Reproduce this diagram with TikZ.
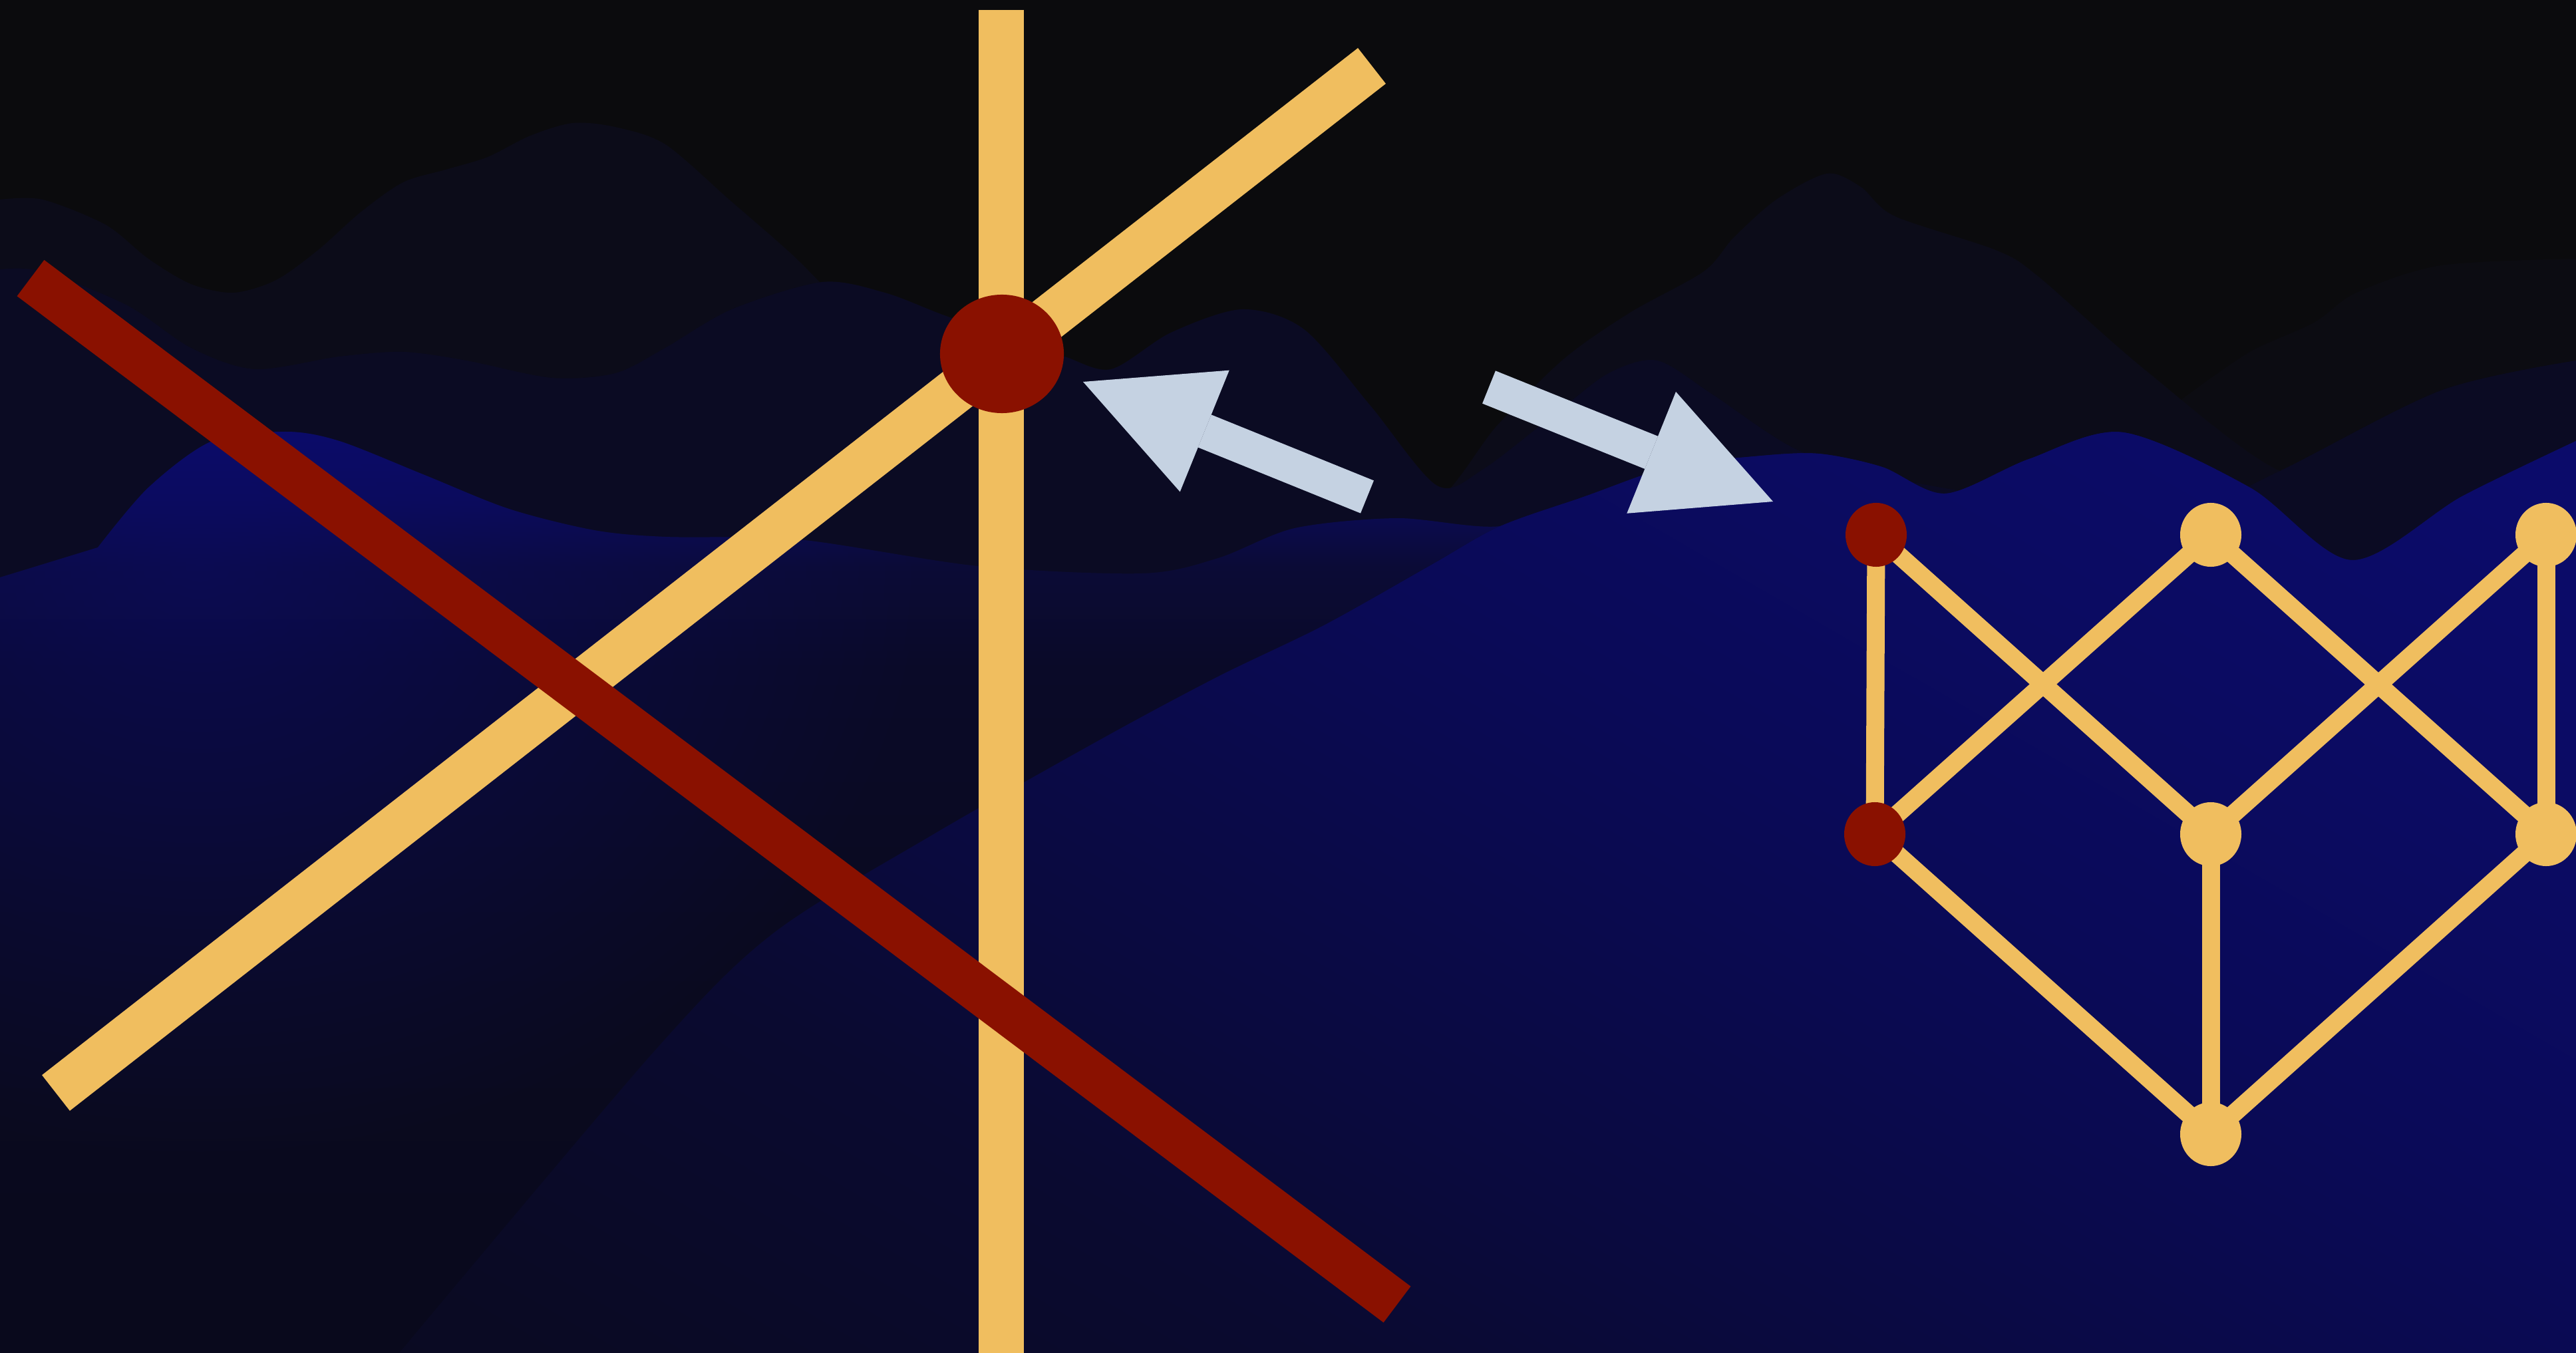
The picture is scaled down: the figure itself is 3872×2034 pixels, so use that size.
\documentclass[tikz,border=0pt]{standalone}
\usetikzlibrary{arrows.meta,shapes.geometric,fadings}

\definecolor{skyc}{RGB}{11,11,13}
\definecolor{farc}{RGB}{12,12,18}
\definecolor{ridgec}{RGB}{12,12,25}
\definecolor{slopec}{RGB}{11,11,35}
\definecolor{hillfloor}{RGB}{9,9,28}
\definecolor{hilllow}{RGB}{10,10,32}
\definecolor{hillmid}{RGB}{10,10,40}
\definecolor{hillhigh}{RGB}{11,11,54}
\definecolor{hillglow}{RGB}{11,11,86}
\definecolor{hilltop}{RGB}{11,11,106}
\definecolor{frontdeep}{RGB}{10,10,30}
\definecolor{frontfloor}{RGB}{10,10,35}
\definecolor{frontlow}{RGB}{10,10,48}
\definecolor{frontmid}{RGB}{10,10,62}
\definecolor{fronthigh}{RGB}{10,10,80}
\definecolor{frontglow}{RGB}{10,10,88}
\definecolor{frontpeak}{RGB}{11,11,98}
\definecolor{goldc}{RGB}{240,190,95}
\definecolor{rustc}{RGB}{138,17,0}
\definecolor{mistc}{RGB}{197,210,226}

\pgfdeclareverticalshading{nearhill}{100bp}{color(0bp)=(hillfloor); color(25bp)=(hillfloor); color(48bp)=(hilllow); color(62bp)=(hillmid); color(67.5bp)=(hillhigh); color(71bp)=(hillglow); color(75bp)=(hilltop); color(100bp)=(hilltop)}
\pgfdeclareverticalshading{fronthill}{100bp}{color(0bp)=(frontdeep); color(18bp)=(frontfloor); color(33bp)=(frontlow); color(41bp)=(frontmid); color(53bp)=(fronthigh); color(59bp)=(frontglow); color(70bp)=(frontpeak); color(82bp)=(hilltop); color(100bp)=(hilltop)}
\tikzfading[name=hillhalo, inner color=transparent!45, outer color=transparent!100]

\tikzset{
  beam/.style={line width=0.68cm},
  graphedge/.style={draw=goldc, line width=0.27cm},
  vertex/.style={ellipse, fill=goldc, minimum width=0.92cm, minimum height=0.96cm, inner sep=0pt},
  hotvertex/.style={vertex, fill=rustc},
  swaparrow/.style={draw=mistc, line width=0.53cm, -{Triangle[length=1.97cm, width=1.97cm, line width=0pt]}}
}

\begin{document}
\begin{tikzpicture}[x=0.01cm, y=-0.01cm]
  \useasboundingbox (0,0) rectangle (3872,2034);
  \fill[skyc] (0,0) rectangle (3872,2034);
  \fill[farc] (3280,2034) -- plot[smooth] coordinates {(3280,600) (3380,530) (3478,485) (3542,440) (3669,399) (3872,389)} -- (3872,2034) -- cycle;
  \fill[ridgec] (0,2034) -- plot[smooth] coordinates {(0,300) (64,300) (159,338) (223,389) (287,427) (351,440) (415,421) (478,376) (542,319) (606,274) (670,255) (733,236) (797,204) (861,185) (925,191) (1000,217) (1096,300) (1191,383) (1280,470) (1400,560) (1700,640) (2000,720) (2147,760) (2250,640) (2350,540) (2450,470) (2561,408) (2606,357) (2670,300) (2746,261) (2797,281) (2848,325) (3000,376) (3063,415) (3223,555) (3427,708) (3600,720) (3872,720)} -- (3872,2034) -- cycle;
  \fill[slopec] (0,2034) -- plot[smooth] coordinates {(0,405) (64,408) (191,459) (287,523) (383,555) (510,536) (606,529) (701,542) (829,568) (925,561) (1000,523) (1100,465) (1236,424) (1330,440) (1414,472) (1520,510) (1600,536) (1670,555) (1760,500) (1867,465) (1960,495) (2060,610) (2160,730) (2230,705) (2350,612) (2420,560) (2491,542) (2574,593) (2701,676) (2850,720) (3100,760) (3300,760) (3427,708) (3669,587) (3872,542)} -- (3872,2034) -- cycle;
  \shade[shading=nearhill, save path=\hillpath] (0,2034) -- (0,868) -- plot[smooth] coordinates {(147,823) (223,733) (319,663) (429,649) (510,663) (638,714) (765,765) (893,797) (1000,807) (1200,811) (1470,851) (1717,862) (1831,839) (1946,794) (2100,779) (2255,791) (2383,746) (2510,702) (2638,686) (2733,682) (2829,702) (2924,742) (3050,690) (3191,650) (3382,733) (3535,842) (3701,746) (3872,663)} -- (3872,2034) -- cycle;
  \begin{scope}
    \clip[use path=\hillpath];
    \fill[hilltop, path fading=hillhalo] (300,850) ellipse [x radius=1100, y radius=900];
  \end{scope}
  \shade[shading=fronthill, shading angle=-30] (600,2034) -- plot[smooth] coordinates {(600,2034) (982,1582) (1161,1404) (1400,1256) (1659,1109) (1831,1017) (1990,940) (2150,850) (2255,791) (2383,746) (2510,702) (2638,686) (2733,682) (2829,702) (2924,742) (3050,690) (3191,650) (3382,733) (3535,842) (3701,746) (3872,663)} -- (3872,2034) -- cycle;

  \draw[beam, draw=goldc] (84,1643) -- (2062,99);
  \draw[beam, draw=goldc] (1505,15) -- (1505,2034);
  \draw[beam, draw=rustc] (46,418) -- (2100,1961);
  \node[ellipse, fill=rustc, minimum width=1.86cm, minimum height=1.78cm, inner sep=0pt] (hub) at (1506,532) {};

  \coordinate (backtail) at (2055,747);
  \coordinate (backtip) at (1628,574);
  \coordinate (fwdtail) at (2238,582);
  \coordinate (fwdtip) at (2665,754);
  \draw[swaparrow] (backtail) -- (backtip);
  \draw[swaparrow] (fwdtail) -- (fwdtip);

  \coordinate (pa) at (2820,804);
  \coordinate (pb) at (3323,804);
  \coordinate (pc) at (3827,804);
  \coordinate (pd) at (2818,1254);
  \coordinate (pe) at (3323,1254);
  \coordinate (pf) at (3827,1254);
  \coordinate (pg) at (3323,1705);
  \draw[graphedge] (pa) -- (pd);
  \draw[graphedge] (pa) -- (pe);
  \draw[graphedge] (pb) -- (pd);
  \draw[graphedge] (pb) -- (pf);
  \draw[graphedge] (pc) -- (pe);
  \draw[graphedge] (pc) -- (pf);
  \draw[graphedge] (pd) -- (pg);
  \draw[graphedge] (pe) -- (pg);
  \draw[graphedge] (pf) -- (pg);
  \node[hotvertex] (a) at (pa) {};
  \node[vertex] (b) at (pb) {};
  \node[vertex] (c) at (pc) {};
  \node[hotvertex] (d) at (pd) {};
  \node[vertex] (e) at (pe) {};
  \node[vertex] (f) at (pf) {};
  \node[vertex] (g) at (pg) {};
\end{tikzpicture}
\end{document}
